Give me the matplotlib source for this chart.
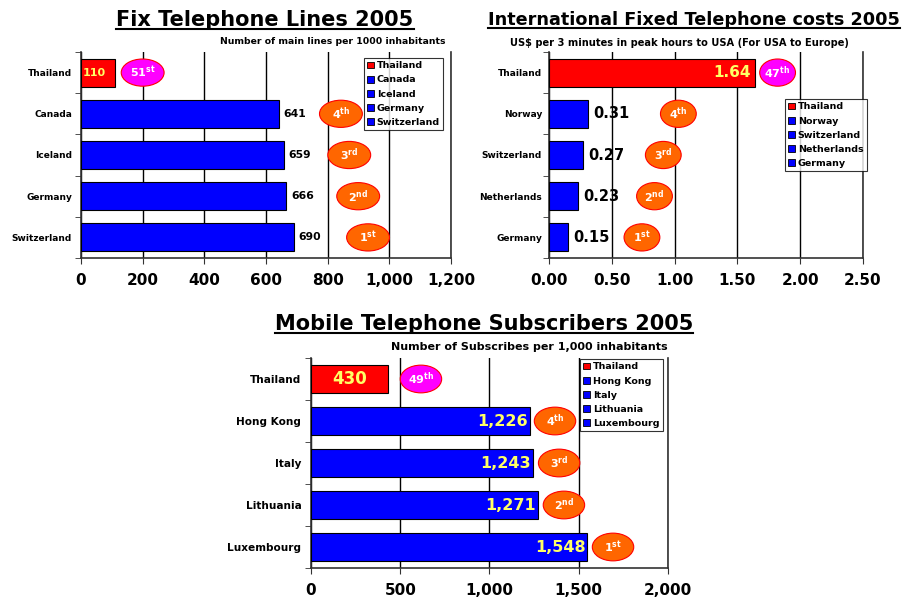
import matplotlib
matplotlib.use("Agg")
import matplotlib.pyplot as plt
from matplotlib.patches import Ellipse, Patch

plt.rcParams["font.family"] = ["DejaVu Sans"]
plt.rcParams["font.weight"] = "bold"
plt.rcParams["mathtext.fontset"] = "dejavusans"

# ---------------------------------------------------------------------------
# Data
# ---------------------------------------------------------------------------
fix_countries = ["Thailand", "Canada", "Iceland", "Germany", "Switzerland"]
fix_values = [110, 641, 659, 666, 690]
fix_ranks = ["51", "4", "3", "2", "1"]
fix_suffix = ["st", "th", "rd", "nd", "st"]
fix_rank_x = [200, 843, 870, 899, 931]
fix_ticks = [0, 200, 400, 600, 800, 1000, 1200]

cost_countries = ["Thailand", "Norway", "Switzerland", "Netherlands", "Germany"]
cost_values = [1.64, 0.31, 0.27, 0.23, 0.15]
cost_ranks = ["47", "4", "3", "2", "1"]
cost_suffix = ["th", "th", "rd", "nd", "st"]
cost_rank_x = [1.82, 1.03, 0.91, 0.84, 0.74]
cost_ticks = [0.0, 0.5, 1.0, 1.5, 2.0, 2.5]

mob_countries = ["Thailand", "Hong Kong", "Italy", "Lithuania", "Luxembourg"]
mob_values = [430, 1226, 1243, 1271, 1548]
mob_ranks = ["49", "4", "3", "2", "1"]
mob_suffix = ["th", "th", "rd", "nd", "st"]
mob_rank_x = [616, 1367, 1390, 1417, 1692]
mob_ticks = [0, 500, 1000, 1500, 2000]

RED = "#FF0000"
BLUE = "#0000FF"
ORANGE = "#FF6600"
MAGENTA = "#FF00FF"
YELLOW = "#FFFF66"

W, H = 909, 597


def px_axes(fig, x0, y0, x1, y1):
    """Add axes given pixel box (top-left origin)."""
    return fig.add_axes([x0 / W, 1 - y1 / H, (x1 - x0) / W, (y1 - y0) / H])


def draw_panel(ax, names, values, ranks, suffix, rank_x, ticks, xmax,
               ell_w, tick_fmt, legend_box, ylab_size=6.5, ylab_pad=6.5):
    n = len(names)
    ys = list(range(n))
    colors = [RED] + [BLUE] * (n - 1)
    ax.barh(ys, values, height=0.68, color=colors, edgecolor="black",
            linewidth=0.8, zorder=3)
    ax.set_ylim(n - 0.5, -0.5)
    ax.set_xlim(0, xmax)
    ax.set_xticks(ticks)
    ax.set_xticklabels([tick_fmt(t) for t in ticks], fontsize=11,
                       fontweight="bold")
    ax.set_yticks(ys)
    ax.set_yticklabels(names, fontsize=ylab_size, fontweight="bold")
    ax.set_yticks([i - 0.5 for i in range(n + 1)], minor=True)
    ax.tick_params(axis="y", which="major", length=0, pad=ylab_pad)
    ax.tick_params(axis="y", which="minor", length=4, direction="out",
                   color="#333333")
    ax.tick_params(axis="x", length=4, direction="out", color="#333333",
                   pad=7)
    ax.grid(axis="x", color="black", linewidth=1, zorder=0)
    ax.spines["top"].set_visible(False)
    for s in ("left", "bottom", "right"):
        ax.spines[s].set_color("#333333")
        ax.spines[s].set_linewidth(1.2)

    # rank bubbles
    for i, (rx, r, sfx) in enumerate(zip(rank_x, ranks, suffix)):
        fc = MAGENTA if i == 0 else ORANGE
        ax.add_patch(Ellipse((rx, i), ell_w, 0.66, facecolor=fc,
                             edgecolor=RED, linewidth=0.8, zorder=4,
                             clip_on=False))
        ax.text(rx, i, r"$\mathbf{" + r + "^{" + sfx + "}}$", color="white",
                fontsize=8, ha="center", va="center", zorder=5)

    handles = [Patch(facecolor=c, edgecolor="black", linewidth=0.6)
               for c in colors]
    leg = ax.legend(handles, names, loc="upper left",
                    bbox_to_anchor=legend_box, prop={"size": 6.8, "weight": "bold"},
                    frameon=True, fancybox=False, handlelength=0.7,
                    handleheight=0.7, handletextpad=0.3, labelspacing=0.55,
                    borderpad=0.35, borderaxespad=0)
    leg.get_frame().set_edgecolor("black")
    leg.get_frame().set_linewidth(0.8)
    leg.set_zorder(6)
    return ax


fig = plt.figure(figsize=(W / 100, H / 100), dpi=100)

# --- Fix Telephone Lines -----------------------------------------------------
ax1 = px_axes(fig, 81, 52, 451, 258)
draw_panel(ax1, fix_countries, fix_values, fix_ranks, fix_suffix, fix_rank_x,
           fix_ticks, 1200, 139, lambda t: f"{t:,}",
           ((364 - 81) / 370, (258 - 58) / 206), ylab_pad=6.5)
for i, v in enumerate(fix_values):
    if i == 0:
        ax1.text(4, i, f"{v}", color=YELLOW, fontsize=8, fontweight="bold",
                 ha="left", va="center", zorder=5)
    else:
        ax1.text(v + 15, i, f"{v}", color="black", fontsize=7.8,
                 fontweight="bold", ha="left", va="center", zorder=5)
fig.text(265 / W, 1 - 20 / H, "Fix Telephone Lines 2005", fontsize=15,
         fontweight="bold", ha="center", va="center")
fig.text(445 / W, 1 - 42 / H, "Number of main lines per 1000 inhabitants",
         fontsize=6.7, fontweight="bold", ha="right", va="center")

# --- International Fixed Telephone costs -------------------------------------
ax2 = px_axes(fig, 549, 52, 863, 258)
draw_panel(ax2, cost_countries, cost_values, cost_ranks, cost_suffix,
           cost_rank_x, cost_ticks, 2.5, 0.285, lambda t: f"{t:.2f}",
           ((785 - 549) / 314, (258 - 99) / 206), ylab_pad=5)
for i, v in enumerate(cost_values):
    if i == 0:
        ax2.text(v - 0.03, i, f"{v:.2f}", color=YELLOW, fontsize=11,
                 fontweight="bold", ha="right", va="center", zorder=5)
    else:
        ax2.text(v + 0.04, i, f"{v:.2f}", color="black", fontsize=10.5,
                 fontweight="bold", ha="left", va="center", zorder=5)
fig.text(694 / W, 1 - 20 / H, "International Fixed Telephone costs 2005",
         fontsize=12.7, fontweight="bold", ha="center", va="center")
fig.text(679 / W, 1 - 43 / H,
         "US$ per 3 minutes in peak hours to USA (For USA to Europe)",
         fontsize=7.1, fontweight="bold", ha="center", va="center")

# --- Mobile Telephone Subscribers --------------------------------------------
ax3 = px_axes(fig, 311, 358, 668, 568)
draw_panel(ax3, mob_countries, mob_values, mob_ranks, mob_suffix, mob_rank_x,
           mob_ticks, 2000, 232, lambda t: f"{t:,}",
           ((580 - 311) / 357, (568 - 359) / 210), ylab_size=7.6,
           ylab_pad=7)
for i, v in enumerate(mob_values):
    if i == 0:
        ax3.text(v / 2, i, f"{v:,}", color=YELLOW, fontsize=12,
                 fontweight="bold", ha="center", va="center", zorder=5)
    else:
        ax3.text(v - 10, i, f"{v:,}", color=YELLOW, fontsize=11.5,
                 fontweight="bold", ha="right", va="center", zorder=5)
fig.text(484 / W, 1 - 324 / H, "Mobile Telephone Subscribers 2005",
         fontsize=15, fontweight="bold", ha="center", va="center")
fig.text(668 / W, 1 - 347 / H, "Number of Subscribes per 1,000 inhabitants",
         fontsize=8, fontweight="bold", ha="right", va="center")

# underline the titles
fig.canvas.draw()
renderer = fig.canvas.get_renderer()
for t in fig.texts:
    if t.get_fontsize() >= 12:
        bb = t.get_window_extent(renderer)
        y = bb.y0 + 1
        fig.add_artist(plt.Line2D([bb.x0 / W, bb.x1 / W], [y / H, y / H],
                                  color="black", linewidth=1.5))

fig.savefig("out.png", dpi=100)
